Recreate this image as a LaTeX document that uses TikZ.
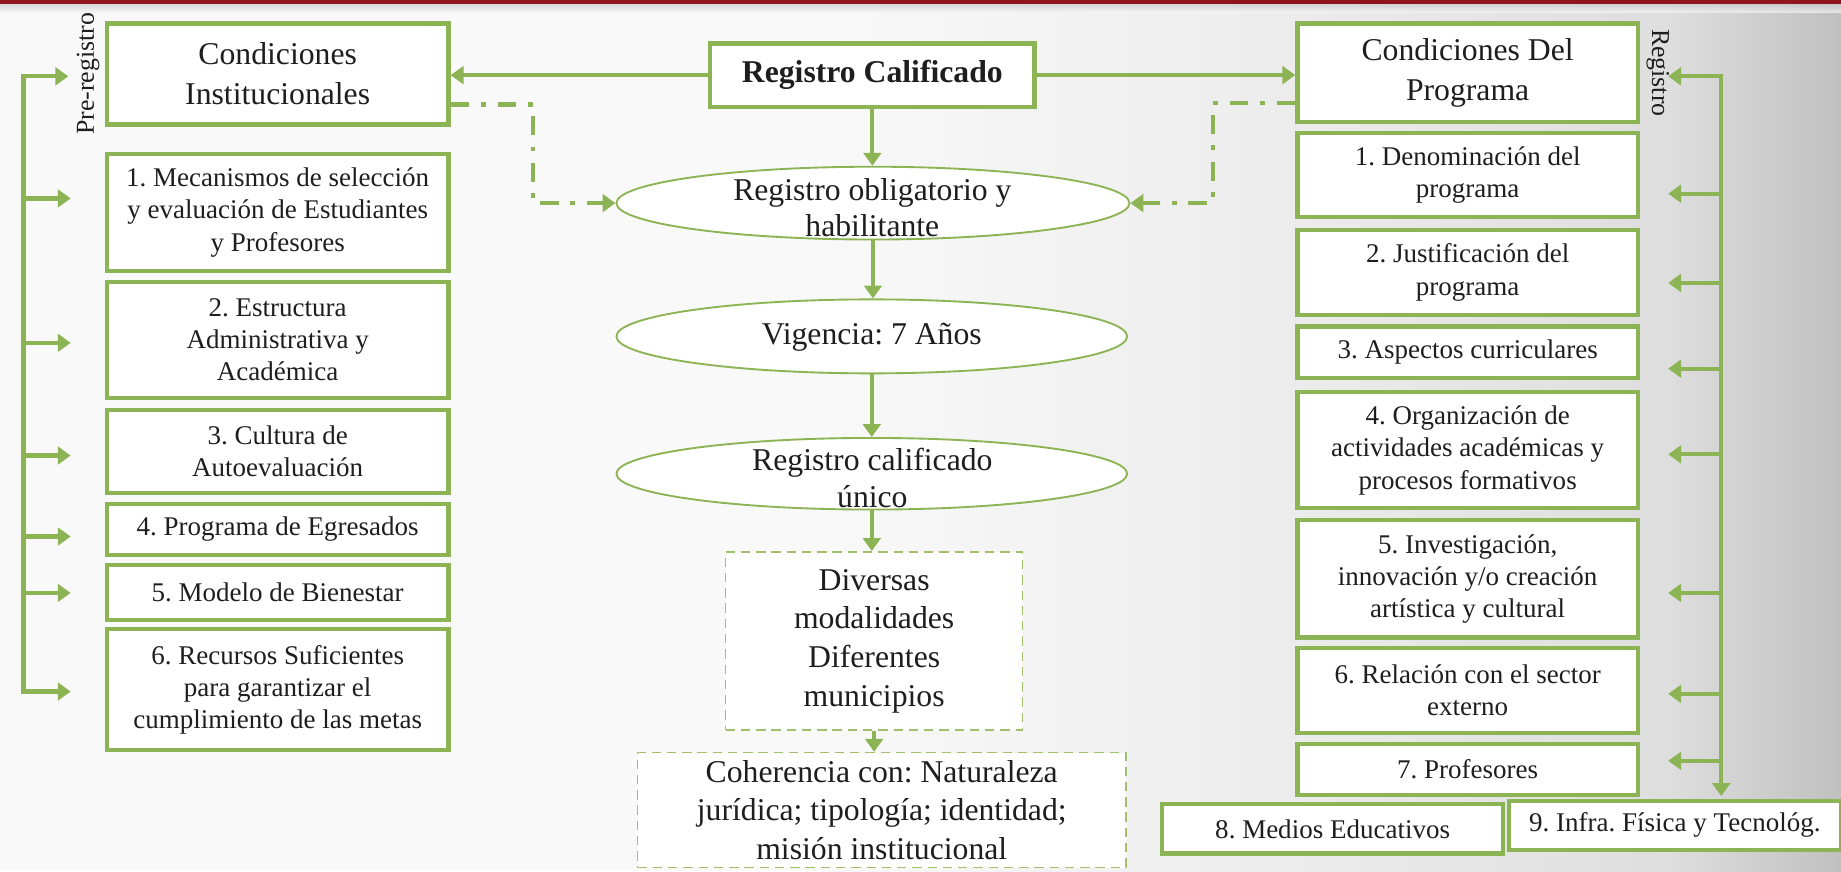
\documentclass[tikz,border=0pt]{standalone}
\usepackage{fontspec}
\setmainfont{Liberation Serif}
\usetikzlibrary{shapes.geometric,arrows.meta,calc}
\definecolor{gr}{RGB}{141,180,84}
\definecolor{grl}{RGB}{160,192,110}
\definecolor{tx}{RGB}{30,30,30}
\definecolor{redbar}{RGB}{140,22,28}
\definecolor{bgA}{RGB}{249,249,249}
\definecolor{bgB}{RGB}{236,236,236}
\definecolor{bgC}{RGB}{222,222,222}
\definecolor{bgD}{RGB}{192,192,192}
\frenchspacing
\begin{document}
\begin{tikzpicture}[x=0.5pt,y=-0.5pt,
  gbox/.style={draw=gr, line width=1.8pt, fill=white, align=center, inner sep=0pt,
    text=tx, font=\fontsize{11.5}{13.75}\selectfont},
  hbox/.style={gbox, font=\fontsize{13.5}{17}\selectfont},
  lbox/.style={gbox, minimum width=145.5pt},
  rbox/.style={gbox, minimum width=145pt},
  ell/.style={ellipse, draw=gr, line width=0.8pt, fill=white, inner sep=0pt},
  etext/.style={align=center, inner sep=0pt, text=tx, font=\fontsize{13.5}{15.5}\selectfont},
  dbox/.style={draw=grl, line width=0.7pt, dash pattern=on 4pt off 2.5pt, fill=white,
    align=center, inner sep=0pt, text=tx, font=\fontsize{13.5}{16.5}\selectfont},
  arr/.style={draw=gr, line width=1.8pt, -{Triangle[width=7.5pt,length=5.5pt]}},
  ddarr/.style={draw=gr, line width=1.8pt, dash pattern=on 8pt off 5pt on 2pt off 5pt,
    -{Triangle[width=7.5pt,length=5.5pt]}},
  side/.style={inner sep=0pt, text=tx, font=\fontsize{11}{12}\selectfont}
]
\useasboundingbox (0,0) rectangle (1568,742);
% background
\fill[bgA] (0,0) rectangle (1568,742);
\shade[left color=bgA, right color=bgB] (700,0) rectangle (1100,742);
\shade[left color=bgB, right color=bgC] (1100,0) rectangle (1420,742);
\shade[left color=bgC, right color=bgD] (1420,0) rectangle (1568,742);
\shade[top color=black!22, bottom color=bgA, opacity=0.7] (0,3) rectangle (1568,11);
\fill[redbar] (0,0) rectangle (1568,3.5);

% left column
\node[hbox, minimum width=145.5pt, minimum height=43pt] (CI) at (236.5,63) {Condiciones\\Institucionales};
\node[lbox, minimum height=50pt] (L1) at (236.5,181) {1. Mecanismos de selección\\y evaluación de Estudiantes\\y Profesores};
\node[lbox, minimum height=49.5pt] (L2) at (236.5,289.5) {2. Estructura\\Administrativa y\\Académica};
\node[lbox, minimum height=35.5pt] (L3) at (236.5,384.5) {3. Cultura de\\Autoevaluación};
\node[lbox, minimum height=22pt] (L4) at (236.5,451) {4. Programa de Egresados};
\node[lbox, minimum height=23.5pt] (L5) at (236.5,504.5) {5. Modelo de Bienestar};
\node[lbox, minimum height=51.5pt] (L6) at (236.5,587.5) {6. Recursos Suficientes\\para garantizar el\\cumplimiento de las metas};

% right column
\node[hbox, minimum width=145pt, minimum height=42pt] (CP) at (1250,62) {Condiciones Del\\Programa};
\node[rbox, minimum height=36pt] (R1) at (1250,149) {1. Denominación del\\programa};
\node[rbox, minimum height=36pt] (R2) at (1250,232) {2. Justificación del\\programa};
\node[rbox, minimum height=22pt] (R3) at (1250,300) {3. Aspectos curriculares};
\node[rbox, minimum height=49.5pt] (R4) at (1250,383.5) {4. Organización de\\actividades académicas y\\procesos formativos};
\node[rbox, minimum height=50pt] (R5) at (1250,493) {5. Investigación,\\innovación y/o creación\\artística y cultural};
\node[rbox, minimum height=36pt] (R6) at (1250,588) {6. Relación con el sector\\externo};
\node[rbox, minimum height=21.5pt] (R7) at (1250,655.5) {7. Profesores};
\node[gbox, minimum width=145pt, minimum height=21pt] (R8) at (1135,706) {8. Medios Educativos};
\node[gbox, minimum width=141.5pt, minimum height=21pt] (R9) at (1426.5,703) {9. Infra. Física y Tecnológ.};

% side labels
\node[side, rotate=90] (lblL) at (75,63) {Pre-registro};
\node[side, rotate=-90] (lblR) at (1412,62) {Registro};

% center
\node[hbox, minimum width=138pt, minimum height=27pt, font=\bfseries\fontsize{13.5}{16}\selectfont] (RC) at (743,64) {Registro Calificado};
\node[ell, minimum width=218.5pt, minimum height=31pt] (E1) at (743.5,173) {};
\node[etext] (E1t) at (743,177) {Registro obligatorio y\\habilitante};
\node[ell, minimum width=217.5pt, minimum height=31.5pt] (E2) at (742.5,286.5) {};
\node[etext] (E2t) at (742.5,287) {Vigencia: 7 Años};
\node[ell, minimum width=217.5pt, minimum height=30.5pt] (E3) at (742.5,403.5) {};
\node[etext] (E3t) at (743,407) {Registro calificado\\único};
\node[dbox, minimum width=126.5pt, minimum height=76pt] (D1) at (744.5,546) {Diversas\\modalidades\\Diferentes\\municipios};
\node[dbox, minimum width=208pt, minimum height=49pt] (D2) at (751,690) {Coherencia con: Naturaleza\\jurídica; tipología; identidad;\\misión institucional};

% center connectors
\draw[arr] (RC.west) -- (RC.west -| CI.east);
\draw[arr] (RC.east) -- (RC.east -| CP.west);
\draw[arr] (RC.south) -- (RC.south |- E1.north);
\draw[arr] (E1.south) -- (E1.south |- E2.north);
\draw[arr] (E2.south) -- (E2.south |- E3.north);
\draw[arr] (E3.south) -- (E3.south |- D1.north);
\draw[arr] (D1.south) -- (D1.south |- D2.north);
\draw[ddarr] ([yshift=-13pt]CI.east) -| ($(CI.east)!.5!(E1.west)$) |- (E1.west);
\draw[ddarr] ([yshift=-13pt]CP.west) -| ($(CP.west)!.5!(E1.east)$) |- (E1.east);

% left bus
\coordinate (lt) at (20,65);
\coordinate (l1) at (20,169);
\coordinate (l2) at (20,292);
\coordinate (l3) at (20,388);
\coordinate (l4) at (20,457);
\coordinate (l5) at (20,505);
\coordinate (l6) at (20,589);
\draw[arr, line cap=rect, shorten >=15.5pt] (l6) -- (lt) -- (lt -| CI.west);
\draw[arr, line cap=rect, shorten >=14.5pt] (lt) -- (l6) -- (l6 -| L6.west);
\foreach \c/\n in {l1/L1,l2/L2,l3/L3,l4/L4,l5/L5}
  \draw[arr, shorten >=14.5pt] (\c) -- (\c -| \n.west);

% right bus
\coordinate (rt) at (1466,65);
\coordinate (r1) at (1466,165);
\coordinate (r2) at (1466,241);
\coordinate (r3) at (1466,314);
\coordinate (r4) at (1466,387);
\coordinate (r5) at (1466,505);
\coordinate (r6) at (1466,591);
\coordinate (r7) at (1466,648);
\coordinate (rb) at (1466,678);
\draw[arr, line cap=rect] (rt) -- (rb);
\draw[arr, line cap=rect, shorten >=12pt] (rt) -- (rt -| CP.east);
\foreach \c/\n in {r1/R1,r2/R2,r3/R3,r4/R4,r5/R5,r6/R6,r7/R7}
  \draw[arr, shorten >=12pt] (\c) -- (\c -| \n.east);
\end{tikzpicture}
\end{document}
